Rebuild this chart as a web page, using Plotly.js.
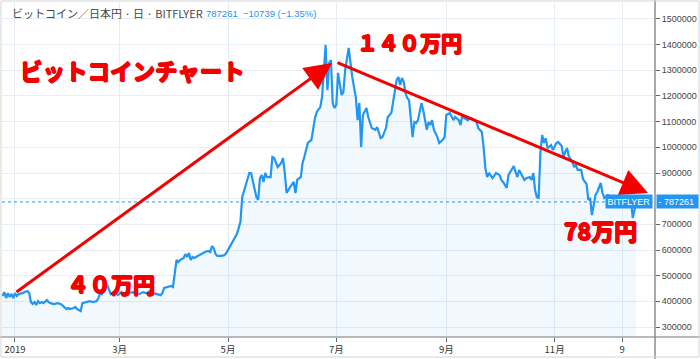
<!DOCTYPE html>
<html>
<head>
<meta charset="utf-8">
<script src="https://cdn.plot.ly/plotly-3.0.1.min.js"></script>
<style>html,body{margin:0;padding:0;background:#fff;}#chart{width:700px;height:359px;}</style>
</head>
<body>
<div id="chart"></div>
<script>
const dates = [
"2018-12-25","2018-12-26","2018-12-27","2018-12-28","2018-12-29","2018-12-30","2018-12-31",
"2019-01-01","2019-01-02","2019-01-03","2019-01-05","2019-01-07","2019-01-08","2019-01-09","2019-01-10","2019-01-11","2019-01-12","2019-01-13","2019-01-14","2019-01-15","2019-01-16","2019-01-17","2019-01-18","2019-01-19","2019-01-20","2019-01-21","2019-01-23","2019-01-25","2019-01-27","2019-01-28","2019-01-29","2019-01-30","2019-01-31",
"2019-02-01","2019-02-03","2019-02-04","2019-02-05","2019-02-06","2019-02-07","2019-02-08","2019-02-10","2019-02-12","2019-02-14","2019-02-16","2019-02-17","2019-02-18","2019-02-19","2019-02-20","2019-02-21","2019-02-22","2019-02-23","2019-02-24","2019-02-25","2019-02-26","2019-02-28",
"2019-03-02","2019-03-04","2019-03-06","2019-03-08","2019-03-10","2019-03-12","2019-03-14","2019-03-16","2019-03-18","2019-03-20","2019-03-22","2019-03-24","2019-03-25","2019-03-26","2019-03-28","2019-03-30","2019-03-31",
"2019-04-01","2019-04-02","2019-04-03","2019-04-04","2019-04-06","2019-04-07","2019-04-08","2019-04-09","2019-04-10","2019-04-11","2019-04-12","2019-04-14","2019-04-16","2019-04-18","2019-04-20","2019-04-21","2019-04-22","2019-04-23","2019-04-24","2019-04-25","2019-04-27","2019-04-29","2019-04-30",
"2019-05-01","2019-05-02","2019-05-03","2019-05-04","2019-05-05","2019-05-06","2019-05-07","2019-05-08","2019-05-09","2019-05-10","2019-05-11","2019-05-12","2019-05-13","2019-05-14","2019-05-15","2019-05-16","2019-05-17","2019-05-18","2019-05-19","2019-05-20","2019-05-21","2019-05-22","2019-05-23","2019-05-25","2019-05-26","2019-05-27","2019-05-29","2019-05-31",
"2019-06-01","2019-06-02","2019-06-03","2019-06-05","2019-06-07","2019-06-08","2019-06-09","2019-06-11","2019-06-12","2019-06-13","2019-06-15","2019-06-17","2019-06-19","2019-06-20","2019-06-22","2019-06-23","2019-06-25","2019-06-26","2019-06-27","2019-06-28","2019-06-29","2019-06-30",
"2019-07-01","2019-07-02","2019-07-04","2019-07-05","2019-07-06","2019-07-08","2019-07-09","2019-07-10","2019-07-12","2019-07-13","2019-07-14","2019-07-15","2019-07-16","2019-07-18","2019-07-19","2019-07-21","2019-07-23","2019-07-24","2019-07-26","2019-07-27","2019-07-29","2019-07-30",
"2019-08-01","2019-08-02","2019-08-03","2019-08-04","2019-08-05","2019-08-06","2019-08-07","2019-08-08","2019-08-09","2019-08-10","2019-08-11","2019-08-13","2019-08-14","2019-08-15","2019-08-16","2019-08-18","2019-08-19","2019-08-20","2019-08-21","2019-08-22","2019-08-23","2019-08-24","2019-08-25","2019-08-27","2019-08-28","2019-08-30","2019-08-31",
"2019-09-01","2019-09-03","2019-09-05","2019-09-06","2019-09-08","2019-09-09","2019-09-10","2019-09-11","2019-09-13","2019-09-15","2019-09-17","2019-09-18","2019-09-19","2019-09-21","2019-09-22","2019-09-23","2019-09-24","2019-09-25","2019-09-27","2019-09-28","2019-09-29",
"2019-10-01","2019-10-02","2019-10-03","2019-10-05","2019-10-06","2019-10-08","2019-10-09","2019-10-10","2019-10-11","2019-10-12","2019-10-13","2019-10-15","2019-10-16","2019-10-18","2019-10-19","2019-10-20","2019-10-21","2019-10-22","2019-10-23","2019-10-24","2019-10-25","2019-10-26","2019-10-27","2019-10-28","2019-10-30","2019-10-31",
"2019-11-02","2019-11-03","2019-11-05","2019-11-06","2019-11-07","2019-11-08","2019-11-09","2019-11-10","2019-11-11","2019-11-12","2019-11-13","2019-11-14","2019-11-16","2019-11-17","2019-11-19","2019-11-20","2019-11-21","2019-11-22","2019-11-24","2019-11-25","2019-11-27","2019-11-28","2019-11-29",
"2019-12-01","2019-12-03","2019-12-06","2019-12-09","2019-12-12","2019-12-14","2019-12-15","2019-12-17"
];
const prices = [
421000,436000,413000,432000,417000,429000,413000,
432000,421000,428000,432000,436000,440000,432000,397000,390000,397000,386000,401000,393000,397000,393000,401000,405000,397000,393000,389000,393000,389000,382000,378000,370000,374000,
370000,374000,378000,370000,366000,362000,393000,397000,401000,397000,401000,413000,432000,428000,440000,452000,464000,444000,428000,432000,432000,425000,
436000,421000,432000,436000,432000,428000,436000,432000,440000,432000,428000,424000,432000,452000,456000,460000,456000,
522000,561000,553000,561000,569000,584000,573000,588000,561000,573000,569000,577000,584000,592000,596000,592000,615000,607000,584000,577000,577000,580000,588000,
600000,615000,623000,635000,647000,662000,685000,709000,806000,830000,853000,884000,900000,900000,872000,833000,806000,795000,880000,892000,865000,900000,884000,884000,962000,958000,923000,939000,
958000,900000,822000,845000,865000,822000,873000,884000,939000,962000,1017000,1029000,1114000,1138000,1157000,1196000,1399000,1223000,1329000,1340000,1173000,1153000,
1165000,1290000,1204000,1215000,1301000,1387000,1328000,1274000,1196000,1106000,1173000,1001000,1126000,1153000,1118000,1075000,1068000,1079000,1036000,1040000,1075000,1118000,
1134000,1173000,1223000,1262000,1274000,1243000,1270000,1255000,1212000,1192000,1184000,1040000,1099000,1095000,1106000,1173000,1145000,1099000,1068000,1099000,1087000,1106000,1068000,1040000,1017000,1029000,1040000,
1126000,1134000,1106000,1118000,1106000,1087000,1126000,1114000,1106000,1114000,1106000,1099000,1075000,1060000,1001000,919000,884000,900000,880000,892000,900000,
892000,873000,865000,842000,892000,919000,927000,904000,884000,912000,900000,873000,880000,884000,873000,900000,834000,806000,803000,978000,1048000,1017000,1036000,997000,1009000,990000,
1017000,1021000,1005000,962000,982000,997000,966000,955000,943000,923000,931000,912000,912000,876000,857000,795000,803000,736000,814000,826000,861000,822000,803000,
814000,806000,799000,803000,795000,799000,725000,787261
];
const lastPrice = 787261;
const xTickVals = ["2019-01-01","2019-03-01","2019-05-01","2019-07-01","2019-09-01","2019-11-01","2019-12-09"];
const xTickText = ["2019","3月","5月","7月","9月","11月","9"];
const yTickVals = [300000,400000,500000,600000,700000,900000,1000000,1100000,1200000,1300000,1400000,1500000];
const chartTitle = "ビットコイン／日本円 · 日 · BITFLYER";
const quoteText = "787261  −10739 (−1.35%)";
const redTitle = "ビットコインチャート";
const lbl140 = "１４０万円";
const lbl40 = "４０万円";
const lbl78 = "78万円";

const BLUE = "#2196f3";
const RED = "#f50000";
const GRID = "#e6edf4";
const JP = "'Noto Sans CJK JP', 'Liberation Sans', sans-serif";
const SANS = "'Liberation Sans', 'Noto Sans CJK JP', sans-serif";
const BOLDSHADOW = "0.7px 0 0 #f50000, -0.7px 0 0 #f50000, 0 0.7px 0 #f50000, 0 -0.7px 0 #f50000, 0.5px 0.5px 0 #f50000, -0.5px -0.5px 0 #f50000";

const trace = {
  x: dates, y: prices, type: "scatter", mode: "lines",
  line: {color: BLUE, width: 2.2},
  fill: "tozeroy", fillcolor: "rgba(33,150,243,0.06)",
  hoverinfo: "skip"
};

const redFont = (s) => ({family: JP, size: s, color: RED, weight: 900, shadow: BOLDSHADOW});

const layout = {
  width: 700, height: 359,
  margin: {l: 2, r: 45, t: 2, b: 22},
  paper_bgcolor: "#fff", plot_bgcolor: "#fff",
  showlegend: false,
  xaxis: {
    type: "date",
    range: ["2018-12-24 16:20", "2019-12-27 13:30"],
    tickvals: xTickVals, ticktext: xTickText,
    showgrid: true, gridcolor: GRID, gridwidth: 1,
    ticks: "outside", ticklen: 4, tickcolor: "#666",
    showline: false, zeroline: false,
    tickfont: {family: JP, size: 9.5, color: "#333"}
  },
  yaxis: {
    side: "right",
    range: [261040, 1566200],
    tickvals: yTickVals, tickformat: "d",
    showgrid: true, gridcolor: GRID, gridwidth: 1,
    ticks: "outside", ticklen: 4, tickcolor: "#666",
    showline: false, zeroline: false,
    tickfont: {family: SANS, size: 9, color: "#444"}
  },
  shapes: [
    {type: "line", xref: "paper", yref: "y", x0: 0, x1: 1, y0: 800000, y1: 800000,
     line: {color: GRID, width: 1}, layer: "below"},
    {type: "line", xref: "paper", yref: "y", x0: 0, x1: 1, y0: lastPrice, y1: lastPrice,
     line: {color: BLUE, width: 1, dash: "dot"}},
    {type: "line", xref: "paper", yref: "paper", x0: 1, x1: 1, y0: -0.07, y1: 1.01,
     line: {color: "#555", width: 1}},
    {type: "line", xref: "paper", yref: "paper", x0: -0.003, x1: 1.07, y0: 0, y1: 0,
     line: {color: "#777", width: 1}},
    {type: "rect", xref: "paper", yref: "paper", x0: -0.0015, x1: 1.0674, y0: -0.0597, y1: 1.003,
     line: {color: "#d4d4d4", width: 1}}
  ],
  annotations: [
    {xref: "paper", yref: "paper", x: 0.0123, y: 0.967, xanchor: "left", yanchor: "middle",
     text: chartTitle, showarrow: false, font: {family: JP, size: 11, color: "#444"}},
    {xref: "paper", yref: "paper", x: 0.3093, y: 0.965, xanchor: "left", yanchor: "middle",
     text: quoteText, showarrow: false, font: {family: SANS, size: 9.5, color: BLUE}},
    {xref: "paper", yref: "paper", x: 0.0245, y: 0.797, xanchor: "left", yanchor: "middle",
     text: "<b>" + redTitle + "</b>", showarrow: false, font: redFont(22.5)},
    {xref: "paper", yref: "paper", x: 0.5406, y: 0.8806, xanchor: "left", yanchor: "middle",
     text: "<b>" + lbl140 + "</b>", showarrow: false, font: redFont(21)},
    {xref: "paper", yref: "paper", x: 0.0965, y: 0.1612, xanchor: "left", yanchor: "middle",
     text: "<b>" + lbl40 + "</b>", showarrow: false, font: redFont(22)},
    {xref: "paper", yref: "paper", x: 0.8576, y: 0.3194, xanchor: "left", yanchor: "middle",
     text: "<b>" + lbl78 + "</b>", showarrow: false, font: redFont(23)},
    {xref: "x domain", yref: "y domain", axref: "x domain", ayref: "y domain",
     x: 0.5054, y: 0.8179, ax: 0.0199, ay: 0.1313, text: "", showarrow: true,
     arrowhead: 2, arrowsize: 1.8, arrowwidth: 3, arrowcolor: RED},
    {xref: "x domain", yref: "y domain", axref: "x domain", ayref: "y domain",
     x: 0.9893, y: 0.4299, ax: 0.5115, ay: 0.8209, text: "", showarrow: true,
     arrowhead: 2, arrowsize: 1.8, arrowwidth: 3, arrowcolor: RED},
    {xref: "paper", yref: "y", x: 0.997, y: lastPrice, xanchor: "right", yanchor: "middle",
     text: "BITFLYER", showarrow: false, bgcolor: BLUE, borderpad: 1.5,
     font: {family: SANS, size: 9, color: "#fff"}},
    {xref: "paper", yref: "y", x: 1.0015, y: lastPrice, xanchor: "left", yanchor: "middle",
     text: "- 787261", showarrow: false, bgcolor: BLUE, borderpad: 1.5, width: 38, align: "left",
     font: {family: SANS, size: 9, color: "#fff"}}
  ]
};

Plotly.newPlot("chart", [trace], layout, {staticPlot: true, displayModeBar: false});
</script>
</body>
</html>
